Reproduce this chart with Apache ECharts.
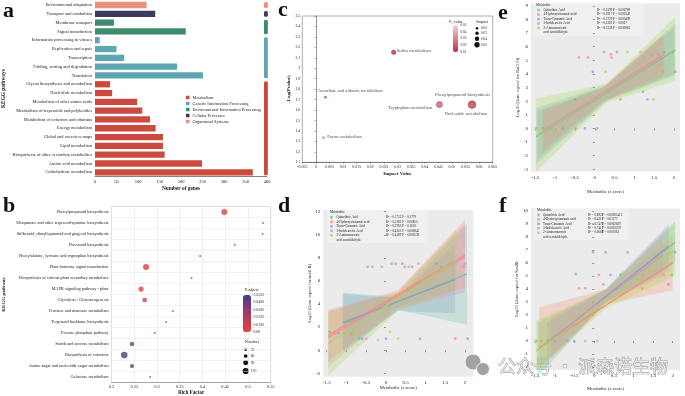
<!DOCTYPE html>
<html>
<head>
<meta charset="utf-8">
<script src="https://cdn.jsdelivr.net/npm/echarts@6/dist/echarts.min.js"></script>
<style>
  html, body { margin: 0; padding: 0; background: #fff; }
  #main { width: 685px; height: 396px; }
</style>
</head>
<body>
<div id="main"></div>
<script>
const FONT = 'Liberation Serif';

// ---- panel a: KEGG level-2 pathway gene counts
const keggCats = ['Environmental adaptation', 'Transport and catabolism', 'Membrane transport', 'Signal transduction',
  'Information processing in viruses', 'Replication and repair', 'Transcription', 'Folding, sorting and degradation',
  'Translation', 'Glycan biosynthesis and metabolism', 'Nucleotide metabolism', 'Metabolism of other amino acids',
  'Metabolism of terpenoids and polyketides', 'Metabolism of cofactors and vitamins', 'Energy metabolism',
  'Global and overview maps', 'Lipid metabolism', 'Biosynthesis of other secondary metabolites',
  'Amino acid metabolism', 'Carbohydrate metabolism'];
const keggGenes = [120, 140, 44, 211, 11, 50, 68, 191, 251, 35, 40, 98, 110, 128, 141, 158, 158, 162, 249, 367];
const keggClass = ['Organismal Systems', 'Cellular Processes', 'Environmental Information Processing',
  'Environmental Information Processing', 'Genetic Information Processing', 'Genetic Information Processing',
  'Genetic Information Processing', 'Genetic Information Processing', 'Genetic Information Processing',
  'Metabolism', 'Metabolism', 'Metabolism', 'Metabolism', 'Metabolism', 'Metabolism', 'Metabolism',
  'Metabolism', 'Metabolism', 'Metabolism', 'Metabolism'];
const classNames = ['Metabolism', 'Genetic Information Processing', 'Environmental Information Processing',
  'Cellular Processes', 'Organismal Systems'];
const classColors = ['#cc4a3d', '#5ea6b2', '#3f8b6d', '#3d3b5b', '#e9917e'];

// ---- panel b: KEGG enrichment
const richCats = ['Phenylpropanoid biosynthesis', 'Ubiquinone and other terpenoid-quinone biosynthesis',
  'Stilbenoid, diarylheptanoid and gingerol biosynthesis', 'Flavonoid biosynthesis',
  'Phenylalanine, tyrosine and tryptophan biosynthesis', 'Plant hormone signal transduction',
  'Biosynthesis of various plant secondary metabolites', 'MAPK signaling pathway - plant',
  'Glycolysis / Gluconeogenesis', 'Fructose and mannose metabolism', 'Terpenoid backbone biosynthesis',
  'Pentose phosphate pathway', 'Starch and sucrose metabolism', 'Biosynthesis of cofactors',
  'Amino sugar and nucleotide sugar metabolism', 'Galactose metabolism'];
const richFactor = [0.448, 0.533, 0.532, 0.471, 0.395, 0.276, 0.376, 0.265, 0.273, 0.335, 0.320, 0.295, 0.245, 0.228, 0.245, 0.285];
const richCount = [112, 20, 20, 18, 26, 115, 20, 96, 86, 22, 20, 20, 78, 130, 70, 18];
const richPadj = [0.004, 0.006, 0.006, 0.012, 0.008, 0.003, 0.010, 0.004, 0.005, 0.010, 0.014, 0.016, 0.036, 0.045, 0.040, 0.020];
const padjTicks = [0.05, 0.04, 0.03, 0.02, 0.01, 0];
const padjLabels = ['0.0500', '0.0400', '0.0300', '0.0200', '0.0100', '0.00'];
const countTicks = [30, 60, 90, 120];

// ---- panel c: metabolite pathway impact
const impNames = ['Sulfur metabolism', 'Ascorbate and aldarate metabolism', 'Purine metabolism',
  'Tryptophan metabolism', 'Phenylpropanoid biosynthesis', 'Nucleotide metabolism'];
const impValue = [0.0286, 0.0035, 0.0028, 0.0454, 0.0574, 0.0574];
const impLogP = [2.152, 1.722, 1.336, 1.652, 1.652, 1.652];
const impPval = [0.0070, 0.0190, 0.0461, 0.0223, 0.0223, 0.0223];
const pvalTicks = [0.05, 0.04, 0.03, 0.02, 0.01];
const impactTicks = [0.02, 0.03, 0.04, 0.05];

// ---- panels d, e, f: metabolite vs gene copies
const metNames = ['Quinolinic Acid', '4-Hydroxycinnamic acid', 'Trans-Cinnamic Acid', '3-Indoleacetic Acid',
  '2-Aminomuconic\nacid semialdehyde'];
const metColors = ['#66c2a5', '#fc8d62', '#8da0cb', '#e78ac3', '#a6d854'];
const zTicks = [-1.5, -1, -0.5, 0, 0.5, 1, 1.5, 2];

const eR2 = ['0.5399', '0.5917', '0.5729', '0.6182', '0.5338'];
const eP = ['0.000789', '0.000349', '0.000499', '0.0027', '0.000963'];
const ePoints = [
  [[-1.48, 0], [-0.81, 0], [-0.5, 2.13], [0.23, 5.6], [1.22, 2.69], [1.96, 5.6], [2.03, 4.16]],
  [[-1.31, 0], [-0.48, 0], [-0.4, 5.21], [0.41, 5.43], [0.65, 2.13], [1.44, 5.4], [1.72, 4.16]],
  [[-1.1, 0], [-0.25, 0], [-0.05, 4.16], [0.56, 5.6], [1.33, 2.13], [1.75, 5.6]],
  [[-1.31, 0], [0.06, 0], [-0.17, 5.21], [0.42, 5.19], [0.58, 2.69], [1.24, 5.19], [1.61, 5.4]],
  [[-1.48, 0], [-1.1, 0], [0.11, 2.69], [0.27, 4.16], [0.83, 5.6], [1.15, 5.6], [1.48, 2.13]]
];
const eLines = [[-1.48, -0.6, 2.03, 5.75], [-1.31, -0.2, 1.72, 5.3], [-1.45, -0.5, 2.0, 5.7],
  [-1.31, -0.15, 1.75, 5.45], [-1.48, -0.55, 2.03, 5.8]];
const eBandX = [[-1.48, 0.3, 2.03], [-1.31, 0.2, 1.72], [-1.45, 0.3, 2.0], [-1.31, 0.2, 1.75], [-1.48, 0.3, 2.03]];
const eBandLo = [[-2.6, 2.0, 3.9], [-1.7, 2.0, 3.7], [-2.3, 2.1, 4.0], [-1.6, 2.0, 4.0], [-3.2, 1.9, 3.5]];
const eBandHi = [[1.5, 3.2, 7.7], [1.3, 3.0, 6.9], [1.3, 3.1, 7.4], [1.3, 3.0, 6.9], [2.2, 3.3, 8.2]];

const dR2 = ['0.1735', '0.5181', '0.2763', '0.4161', '0.4189'];
const dP = ['0.1779', '0.00855', '0.1108', '0.000845', '0.000539'];
const dPoints = [
  [[-1.43, 1.6], [-0.68, 1.0], [-0.46, 7.23], [0.145, 7.5], [0.86, 1.0], [1.39, 7.23], [2.07, 1.0]],
  [[-1.3, 1.46], [-0.87, 1.46], [-0.345, 7.23], [0.245, 7.5], [0.48, 7.23], [1.98, 7.23], [1.75, 1.0]],
  [[-1.2, 1.46], [-0.6, 1.0], [0.0, 1.0], [0.415, 7.5], [0.665, 7.23], [1.28, 7.5]],
  [[-1.07, 1.46], [-0.5, 1.0], [-0.11, 7.23], [0.58, 7.23], [0.82, 7.5], [2.0, 7.5]],
  [[-0.98, 1.6], [-0.77, 1.46], [-0.2, 0.88], [0.1, 1.6], [0.31, 1.0]]
];
const dLines = [[-1.08, 2.33, 2.05, 6.6], [-1.46, 1.3, 2.0, 8.25], [-1.1, 2.4, 1.75, 6.1],
  [-1.46, 1.1, 2.0, 8.1], [-1.46, 0.6, 1.79, 7.8]];
const dBandX = [[-1.08, 0.3, 2.05], [-1.46, 0.3, 2.0], [-1.1, 0.3, 1.75], [-1.46, 0.3, 2.0], [-1.46, 0.3, 1.79]];
const dBandLo = [[-0.2, 3.5, 2.2], [-1.0, 3.8, 5.4], [0.0, 3.4, 3.2], [-1.4, 3.6, 5.0], [-2.2, 3.4, 5.2]];
const dBandHi = [[5.0, 4.6, 11.0], [3.5, 5.2, 11.3], [4.9, 4.5, 9.2], [3.4, 5.0, 11.0], [3.3, 5.0, 10.4]];

const fR2 = ['0.8951', '0.4212', '0.7476', '0.7417', '0.6068'];
const fP = ['0.00001412', '0.02177', '0.0002829', '0.0003259', '0.001061'];
const fPoints = [
  [[-1.48, 0], [-0.68, 0], [-0.47, 5.15], [0.29, 6.82], [0.67, 5.08], [1.98, 5.08], [2.06, 6.82]],
  [[-1.35, 0], [-0.39, 4.05], [0.12, 5.08], [1.22, 4.05], [1.77, 5.08]],
  [[-1.18, 0], [-0.51, 0], [-0.03, 6.82], [0.415, 5.08], [1.89, 4.36]],
  [[-1.02, 0], [-0.23, 4.05], [0.23, 4.36], [0.855, 6.82], [1.24, 5.08]],
  [[-1.48, 0], [-0.23, 0], [0.08, 0], [0.71, 5.15]]
];
const fLines = [[-1.45, -0.7, 2.06, 7.6], [-1.4, -0.5, 2.0, 6.0], [-1.2, -0.2, 1.9, 7.3],
  [-1.1, 0.2, 1.75, 6.6], [-1.48, -0.8, 2.06, 7.0]];
const fBandX = [[-1.45, 0.3, 2.06], [-1.4, 0.3, 2.0], [-1.2, 0.3, 1.9], [-1.1, 0.3, 1.75], [-1.48, 0.3, 2.06]];
const fBandLo = [[-2.8, 3.0, 6.0], [-2.0, 2.8, 3.9], [-1.5, 3.0, 5.4], [-1.4, 2.9, 5.0], [-2.3, 2.5, 5.0]];
const fBandHi = [[1.4, 4.0, 9.2], [2.6, 4.0, 8.0], [1.4, 4.0, 9.0], [1.8, 3.9, 8.2], [1.6, 3.9, 9.0]];

// ---------------------------------------------------------------
const chart = echarts.init(document.getElementById('main'));
const txt = { fontFamily: FONT, color: '#222' };
const nameTxt = { fontFamily: FONT, color: '#222', fontWeight: 'bold' };

const richSize = c => 1.2 + c * 0.042;
const impSize = v => 1.8 + v * 95;

const series = [];
const graphic = [];

function label(x, y, text, size, extra) {
  graphic.push({ type: 'text', x: x, y: y, silent: true,
    style: Object.assign({ text: text, font: size + 'px "' + FONT + '"', fill: '#222' }, extra || {}) });
}

// panel a bars, one stacked series per class so the legend gets colours
classNames.forEach((cls, ci) => {
  series.push({
    type: 'bar', name: cls, stack: 'kegg', xAxisIndex: 0, yAxisIndex: 0, barWidth: 6.3,
    itemStyle: { color: classColors[ci] },
    data: keggGenes.map((v, i) => keggClass[i] === cls ? v : '-')
  });
});
// class strip on the right of panel a
series.push({
  type: 'custom', xAxisIndex: 0, yAxisIndex: 0, silent: true, clip: false,
  data: classNames.map((cls, ci) => {
    const idx = keggClass.map((k, i) => k === cls ? i : -1).filter(i => i >= 0);
    return [Math.min(...idx), Math.max(...idx), ci];
  }),
  renderItem: function (params, api) {
    const band = api.size([0, 1])[1];
    const p0 = api.coord([393, api.value(0)]);
    const p1 = api.coord([402, api.value(1)]);
    const top = Math.min(p0[1], p1[1]) - band * 0.33;
    const bot = Math.max(p0[1], p1[1]) + band * 0.33;
    return { type: 'rect', shape: { x: p0[0], y: top, width: p1[0] - p0[0], height: bot - top, r: 1.5 },
      style: { fill: classColors[api.value(2)] } };
  }
});

// panel b
const bIndex = series.length;
series.push({
  type: 'scatter', xAxisIndex: 1, yAxisIndex: 1,
  data: richCats.map((c, i) => [richFactor[i], c, richCount[i], richPadj[i]]),
  symbolSize: v => richSize(v[2])
});

// panel c
const cLabelOffset = [[20, -1.5], [24.7, -6.3], [21, -0.7], [-29.3, 3.6], [-9.5, -10], [-6.2, 9.6]];
const cIndex = series.length;
series.push({
  type: 'scatter', xAxisIndex: 2, yAxisIndex: 2,
  data: impNames.map((n, i) => ({
    name: n, value: [impValue[i], impLogP[i], impPval[i]],
    label: { offset: cLabelOffset[i] }
  })),
  symbolSize: v => impSize(v[0]),
  itemStyle: { borderColor: '#7a2c33', borderWidth: 0.5 },
  label: { show: true, position: 'inside', formatter: '{b}', fontSize: 4.6, fontFamily: FONT,
    color: '#222', textBorderWidth: 0 }
});

// regression panels
function regPanel(g, pts, lines, bx, blo, bhi) {
  metColors.forEach((col, m) => {
    series.push({
      type: 'custom', xAxisIndex: g, yAxisIndex: g, silent: true, z: 1, data: [0],
      renderItem: function (params, api) {
        const poly = [];
        bx[m].forEach((x, i) => poly.push(api.coord([x, bhi[m][i]])));
        for (let i = bx[m].length - 1; i >= 0; i--) poly.push(api.coord([bx[m][i], blo[m][i]]));
        return { type: 'polygon', shape: { points: poly }, style: { fill: col, opacity: 0.27 } };
      }
    });
    series.push({
      type: 'scatter', xAxisIndex: g, yAxisIndex: g, z: 2, data: pts[m], symbolSize: 2.8,
      itemStyle: { color: col, opacity: 0.7 }
    });
    const l = lines[m];
    series.push({
      type: 'line', xAxisIndex: g, yAxisIndex: g, z: 3, data: [[l[0], l[1]], [l[2], l[3]]],
      showSymbol: false, lineStyle: { color: col, width: 1.1 }
    });
  });
}
regPanel(3, ePoints, eLines, eBandX, eBandLo, eBandHi);
regPanel(4, dPoints, dLines, dBandX, dBandLo, dBandHi);
regPanel(5, fPoints, fLines, fBandX, fBandLo, fBandHi);

function regAxes(g, xr, yr, yTicks, yName, xGap) {
  return {
    x: { gridIndex: g, type: 'value', min: xr[0], max: xr[1], name: 'Metabolite (z score)',
      nameLocation: 'middle', nameGap: xGap, nameTextStyle: Object.assign({ fontSize: 4.6 }, txt),
      axisLine: { show: false }, splitLine: { show: false },
      axisTick: { show: true, customValues: zTicks, length: 2, lineStyle: { color: '#333', width: 0.5 } },
      axisLabel: Object.assign({ customValues: zTicks, fontSize: 5, margin: 3 }, txt) },
    y: { gridIndex: g, type: 'value', min: yr[0], max: yr[1], name: yName,
      nameLocation: 'middle', nameGap: 8.3, nameTextStyle: Object.assign({ fontSize: 4.4 }, txt),
      axisLine: { show: false }, splitLine: { show: false },
      axisTick: { show: true, customValues: yTicks, length: 2, lineStyle: { color: '#333', width: 0.5 } },
      axisLabel: Object.assign({ customValues: yTicks, fontSize: 5, margin: 3 }, txt) }
  };
}
const eAx = regAxes(3, [-1.61, 2.15], [-3.17, 9.18], [-3, -2, -1, 0, 1, 2, 3, 4, 5, 6, 7, 8, 9],
  'Log10 (Gene copies/ for NaCl19)', 17.5);
const dAx = regAxes(4, [-1.586, 2.21], [-2.29, 12.15], [-2, 0, 2, 4, 6, 8, 10, 12],
  'Log10 (Gene copies/ for nosZ-II)', 9);
const fAx = regAxes(5, [-1.61, 2.185], [-2.23, 10.2], [-2, -1, 0, 1, 2, 3, 4, 5, 6, 7, 8, 9, 10],
  'Log10 (Gene copies/ for SoxB)', 16.5);

// legends of regression panels
function regLegend(stR2, stP, x0, title, rows, step, cols, box) {
  graphic.push({ type: 'rect', silent: true, shape: { x: box[0], y: box[1], width: box[2], height: box[3] },
    style: { fill: 'rgba(255,255,255,0.28)' } });
  label(x0, title, 'Metabolite', 3.4, { verticalAlign: 'middle' });
  metNames.forEach((n, m) => {
    const y = rows + m * step;
    graphic.push({ type: 'rect', silent: true, shape: { x: cols[0] - 1.3, y: y - 1.3, width: 2.6, height: 2.6 },
      style: { fill: metColors[m], opacity: 0.8 } });
    n.split('\n').forEach((part, k) => label(cols[1], y + k * step, part, 3.3, { verticalAlign: 'middle' }));
    label(cols[2], y, 'R² = ' + stR2[m], 3.2, { verticalAlign: 'middle' });
    label(cols[3], y, 'P = ' + stP[m], 3.2, { verticalAlign: 'middle' });
  });
}
regLegend(eR2, eP, 536, 5.3, 10, 4.5, [538.5, 543.5, 597, 613], [533, 1.5, 110, 34]);
regLegend(dR2, dP, 330, 212.5, 217.3, 4.5, [331.5, 336.5, 386, 402], [327, 209, 100, 34]);
regLegend(fR2, fP, 537, 210, 215, 4.4, [538.5, 543, 588, 602], [533, 207, 96, 33]);

// panel letters
[['a', 3, 0.5], ['b', 3, 195.5], ['c', 278, -1], ['d', 278, 195.5], ['e', 498, 2], ['f', 499, 195.5]]
  .forEach(p => label(p[1], p[2], p[0], 22, { font: 'bold 22px "' + FONT + '"', fill: '#111' }));

// panel b colour bar labels and size legend
label(251.5, 290, 'P.adjust', 4.4, { align: 'center', verticalAlign: 'middle', font: 'italic 4.4px "' + FONT + '"' });
padjTicks.forEach((v, i) => label(253.5, 295 + (0.05 - v) / 0.05 * 37, padjLabels[i], 3.8, { verticalAlign: 'middle' }));
label(252, 341.7, 'Number', 4.4, { align: 'center', verticalAlign: 'middle' });
countTicks.forEach((c, i) => {
  const y = [349.7, 356, 362.7, 371][i];
  graphic.push({ type: 'circle', silent: true, shape: { cx: 245.7, cy: y, r: richSize(c) / 2 }, style: { fill: '#111' } });
  label(250.7, y, String(c), 3.8, { verticalAlign: 'middle' });
});

// panel c legends
label(456, 21.5, 'P_value', 4.2, { align: 'center', verticalAlign: 'middle' });
pvalTicks.forEach((v, i) => label(460.5, 25 + (0.05 - v) / 0.04 * 27, String(v), 3.4, { verticalAlign: 'middle' }));
label(482, 21.5, 'Impact', 4.2, { align: 'center', verticalAlign: 'middle' });
impactTicks.forEach((v, i) => {
  const y = [28.3, 33.3, 38.7, 44.7][i];
  graphic.push({ type: 'circle', silent: true, shape: { cx: 477, cy: y, r: impSize(v) / 2 - 0.6 }, style: { fill: '#111' } });
  label(481, y, String(v), 3.4, { verticalAlign: 'middle' });
});

// watermark
graphic.push({ type: 'circle', silent: true, shape: { cx: 473, cy: 362, r: 8 }, style: { fill: '#a3a3a3', stroke: '#fff', lineWidth: 0.8 } });
graphic.push({ type: 'circle', silent: true, shape: { cx: 483, cy: 369, r: 6.5 }, style: { fill: '#a3a3a3', stroke: '#fff', lineWidth: 0.8 } });
label(498, 366, '公众号 · 派森诺生物', 18, { verticalAlign: 'middle', font: '18px "Noto Sans CJK SC"',
  fill: 'rgba(255,255,255,0.55)', stroke: '#8c8c8c', lineWidth: 0.7 });

const option = {
  animation: false,
  textStyle: { fontFamily: FONT },
  grid: [
    { left: 95, top: 0.6, width: 172, height: 176.1 },
    { left: 111, top: 206.5, width: 159.7, height: 176.2, show: true, borderColor: '#bbb', borderWidth: 0.5 },
    { left: 302.3, top: 16, width: 190.4, height: 146.3, show: true, borderColor: '#777', borderWidth: 0.6 },
    { left: 531, top: 3.3, width: 149, height: 168.4, show: true, backgroundColor: '#ebebeb', borderWidth: 0 },
    { left: 323.3, top: 210, width: 150, height: 166.7, show: true, backgroundColor: '#ebebeb', borderWidth: 0 },
    { left: 531, top: 208.3, width: 149, height: 161.7, show: true, backgroundColor: '#ebebeb', borderWidth: 0 }
  ],
  legend: {
    data: classNames, orient: 'vertical', left: 186, top: 95.5, icon: 'rect', selectedMode: false,
    itemWidth: 3.5, itemHeight: 3.5, itemGap: 2, padding: 0,
    textStyle: Object.assign({ fontSize: 4.4, padding: [0, 0, 0, -2] }, txt)
  },
  visualMap: [
    { type: 'continuous', seriesIndex: bIndex, dimension: 3, min: 0, max: 0.05, calculable: false,
      text: null, left: 243, top: 295, itemWidth: 8, itemHeight: 37, padding: 0,
      inRange: { color: ['#e8413b', '#a43b68', '#3c3d8e'] } },
    { type: 'continuous', seriesIndex: cIndex, dimension: 2, min: 0.01, max: 0.05, calculable: false,
      text: null, left: 453, top: 25, itemWidth: 5, itemHeight: 27, padding: 0,
      inRange: { color: ['#c0303d', '#f6d3d8'] } }
  ],
  xAxis: [
    { gridIndex: 0, type: 'value', min: 0, max: 400, interval: 50, name: 'Number of genes',
      nameLocation: 'middle', nameGap: 9.5, nameTextStyle: Object.assign({ fontSize: 5.3 }, nameTxt),
      axisLine: { show: true, lineStyle: { color: '#333', width: 0.6 } },
      axisTick: { length: 2, lineStyle: { width: 0.5 } }, splitLine: { show: false },
      axisLabel: Object.assign({ fontSize: 4.5, margin: 3 }, txt) },
    { gridIndex: 1, type: 'value', min: 0.2, max: 0.55, interval: 0.05, name: 'Rich Factor',
      nameLocation: 'middle', nameGap: 7.3, nameTextStyle: Object.assign({ fontSize: 5.2 }, nameTxt),
      axisLine: { show: true, lineStyle: { color: '#666', width: 0.5 } },
      axisTick: { length: 1.5, lineStyle: { width: 0.5 } },
      splitLine: { show: true, lineStyle: { color: '#e2e2e2', width: 0.5 } },
      axisLabel: Object.assign({ fontSize: 4.4, margin: 2.5 }, txt) },
    { gridIndex: 2, type: 'value', min: -0.005, max: 0.065, interval: 0.005, name: 'Impact Value',
      nameLocation: 'middle', nameGap: 8.5, nameTextStyle: Object.assign({ fontSize: 5 }, nameTxt),
      axisLine: { show: true, lineStyle: { color: '#555', width: 0.6 } },
      axisTick: { length: 1.5, lineStyle: { width: 0.5 } }, splitLine: { show: false },
      axisLabel: Object.assign({ fontSize: 3.9, margin: 2.5 }, txt) },
    eAx.x, dAx.x, fAx.x
  ],
  yAxis: [
    { gridIndex: 0, type: 'category', data: keggCats, inverse: true, name: 'KEGG pathways',
      nameLocation: 'middle', nameGap: 88.5, nameTextStyle: Object.assign({ fontSize: 5.3 }, nameTxt),
      axisLine: { show: false }, axisTick: { show: false },
      axisLabel: Object.assign({ interval: 0, fontSize: 4.5, margin: 3 }, txt) },
    { gridIndex: 1, type: 'category', data: richCats, inverse: true, name: 'KEGG pathway',
      nameLocation: 'middle', nameGap: 105.5, nameTextStyle: Object.assign({ fontSize: 5 }, nameTxt),
      axisLine: { show: false }, axisTick: { show: false },
      splitLine: { show: true, lineStyle: { color: '#e2e2e2', width: 0.5 } },
      axisLabel: Object.assign({ interval: 0, fontSize: 4.3, margin: 3 }, txt) },
    { gridIndex: 2, type: 'value', min: 1.1, max: 2.5, interval: 0.1, name: '-Log(Pvalue)',
      nameLocation: 'middle', nameGap: 8.5, nameTextStyle: Object.assign({ fontSize: 5 }, nameTxt),
      axisLine: { show: true, lineStyle: { color: '#555', width: 0.6 } },
      axisTick: { length: 1.5, lineStyle: { width: 0.5 } }, splitLine: { show: false },
      axisLabel: Object.assign({ fontSize: 3.9, margin: 2 }, txt) },
    eAx.y, dAx.y, fAx.y
  ],
  graphic: graphic,
  series: series
};
chart.setOption(option);
</script>
</body>
</html>
